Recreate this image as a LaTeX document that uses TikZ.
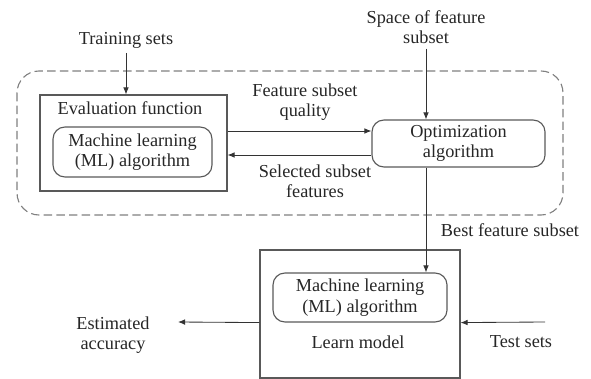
\documentclass[tikz,border=0pt]{standalone}
\usepackage{fontspec}
\setmainfont{Liberation Serif}
\usetikzlibrary{arrows.meta}

\tikzset{
	box/.style={draw=gray!70!black, line width=0.8pt, inner sep=0pt},
	rbox/.style={box, rounded corners=0.3cm, align=center},
	txt/.style={align=center, text=black!85},
	arr/.style={-{Latex[length=5pt,width=4pt]}, draw=black!80, line width=0.6pt}
}

\begin{document}
\begin{tikzpicture}[x=0.025cm, y=-0.025cm, every node/.style={font=\fontsize{13}{14.5}\selectfont}]
	\useasboundingbox (0,0) rectangle (591,379);

	% dashed frame round the search loop
	\draw[gray, line width=0.8pt, dash pattern=on 6pt off 3pt, rounded corners=0.55cm] (17,71) rectangle (563,215);

	\node[box, minimum width=4.675cm, minimum height=2.4cm] (eval) at (133.5,143) {};
	\node[txt] (evallabel) at (130,108) {Evaluation function};
	\node[rbox, txt, minimum width=3.975cm, minimum height=1.25cm] (ml) at (132.5,152) {Machine learning\\(ML) algorithm};
	\node[rbox, txt, minimum width=4.325cm, minimum height=1.175cm] (opt) at (458.5,143.5) {Optimization\\algorithm};

	\node[box, minimum width=5cm, minimum height=3.2cm] (learn) at (360,314) {};
	\node[rbox, txt, minimum width=4.35cm, minimum height=1.225cm] (mltwo) at (360,297.5) {Machine learning\\(ML) algorithm};
	\node[txt] (learnlabel) at (358,342) {Learn model};

	\node[txt] (train) at (126,40) {Training sets};
	\node[txt] (space) at (426,27) {Space of feature\\subset};
	\node[txt] (quality) at (305,102) {Feature subset\\quality};
	\node[txt] (selected) at (315,181) {Selected subset\\features};
	\node[txt] (best) at (510,230) {Best feature subset};
	\node[txt] (accuracy) at (113,335) {Estimated\\accuracy};
	\node[txt] (test) at (521,342) {Test sets};

	\coordinate (accend) at (178,322);
	\coordinate (teststart) at (545,322);

	\draw[arr] (train) -- (train |- eval.north);
	\draw[arr] (space) -- (space |- opt.north);
	\draw[arr] ([yshift=0.3cm]eval.east) -- ([yshift=0.3cm]eval.east -| opt.west);
	\draw[arr] ([yshift=-0.3cm]eval.east -| opt.west) -- ([yshift=-0.3cm]eval.east);
	\draw[arr] (space |- opt.south) -- (space |- mltwo.north);
	\draw[arr] (learn.west |- mltwo.south) -- (accend);
	\draw[arr] (teststart) -- (learn.east |- mltwo.south);
\end{tikzpicture}
\end{document}
